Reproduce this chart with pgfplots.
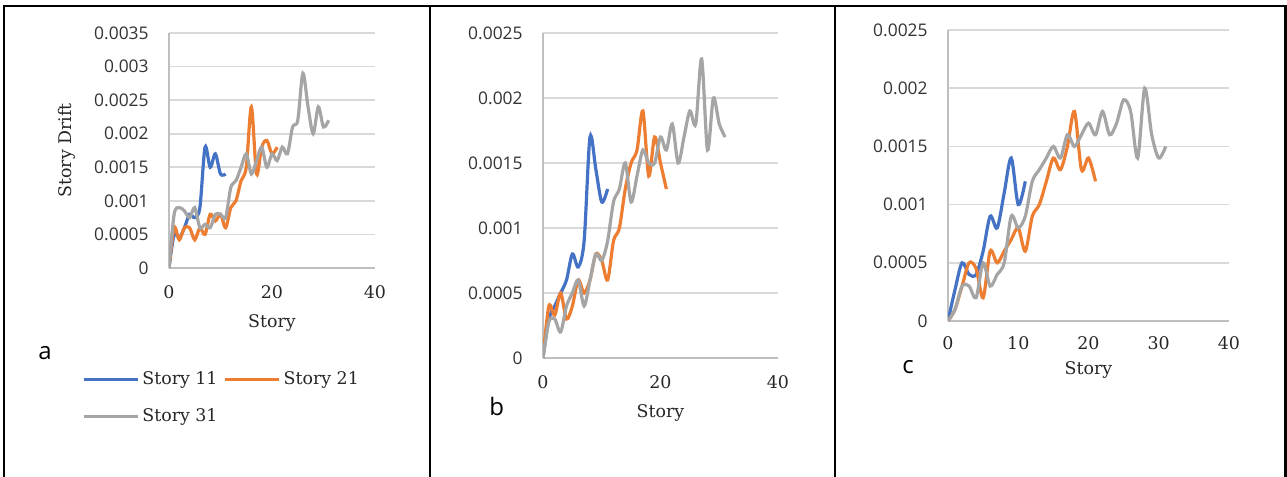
\documentclass[border=0pt]{standalone}
\usepackage{fontspec}
\setmainfont{DejaVu Serif}
\newfontfamily\sansf{Open Sans}
\usepackage{pgfplots}
\pgfplotsset{compat=1.18}
\definecolor{cblue}{HTML}{4472C4}
\definecolor{corange}{HTML}{ED7D31}
\definecolor{cgray}{HTML}{A5A5A5}
\definecolor{gridc}{HTML}{D9D9D9}
\definecolor{axc}{HTML}{BFBFBF}

\pgfplotstableread{
x y
0 0
1 0.0005
2 0.00045
3 0.0006
4 0.0008
5 0.00075
6 0.0009
7 0.0018
8 0.0015
9 0.0017
10 0.0014
11 0.0014
}\aBlue
\pgfplotstableread{
x y
0 0
1 0.0006
2 0.00042
3 0.0006
4 0.0006
5 0.00042
6 0.0006
7 0.0005
8 0.0008
9 0.0007
10 0.0008
11 0.0006
12 0.0009
13 0.001
14 0.0013
15 0.0015
16 0.0024
17 0.0014
18 0.0018
19 0.0019
20 0.0017
21 0.0018
}\aOrange
\pgfplotstableread{
x y
0 0
1 0.0008
2 0.0009
3 0.00085
4 0.00075
5 0.0009
6 0.0006
7 0.00065
8 0.0006
9 0.0008
10 0.0008
11 0.00075
12 0.0012
13 0.0013
14 0.0015
15 0.0017
16 0.0014
17 0.0016
18 0.0018
19 0.0015
20 0.0017
21 0.0016
22 0.0018
23 0.0017
24 0.0021
25 0.0022
26 0.0029
27 0.0024
28 0.002
29 0.0024
30 0.0021
31 0.0022
}\aGray

\pgfplotstableread{
x y
0 0
1 0.0003
2 0.0004
3 0.0005
4 0.0006
5 0.0008
6 0.0007
7 0.0009
8 0.0017
9 0.00145
10 0.0012
11 0.0013
}\bBlue
\pgfplotstableread{
x y
0 0
1 0.0004
2 0.00033
3 0.0005
4 0.0003
5 0.0004
6 0.0006
7 0.0005
8 0.0006
9 0.0008
10 0.00075
11 0.0006
12 0.0009
13 0.001
14 0.0013
15 0.0015
16 0.0016
17 0.0019
18 0.0014
19 0.0017
20 0.0015
21 0.0013
}\bOrange
\pgfplotstableread{
x y
0 0
1 0.00028
2 0.0003
3 0.0002
4 0.0004
5 0.0005
6 0.0006
7 0.0004
8 0.0006
9 0.0008
10 0.00075
11 0.0009
12 0.0012
13 0.0013
14 0.0015
15 0.0012
16 0.0014
17 0.0016
18 0.0015
19 0.0015
20 0.0017
21 0.0016
22 0.0018
23 0.0015
24 0.0017
25 0.0019
26 0.0018
27 0.0023
28 0.0016
29 0.002
30 0.0018
31 0.0017
}\bGray

\pgfplotstableread{
x y
0 0
1 0.00027
2 0.0005
3 0.0004
4 0.0004
5 0.0006
6 0.0009
7 0.0008
8 0.0011
9 0.0014
10 0.001
11 0.0012
}\cBlue
\pgfplotstableread{
x y
0 0
1 0.0001
2 0.0003
3 0.0005
4 0.00045
5 0.0002
6 0.0006
7 0.0005
8 0.0006
9 0.0007
10 0.0008
11 0.0006
12 0.0009
13 0.001
14 0.0012
15 0.0014
16 0.0013
17 0.0015
18 0.0018
19 0.0013
20 0.0014
21 0.0012
}\cOrange
\pgfplotstableread{
x y
0 0
1 0.0001
2 0.0003
3 0.0003
4 0.0002
5 0.0005
6 0.0003
7 0.0004
8 0.0005
9 0.0009
10 0.0008
11 0.0009
12 0.0012
13 0.0013
14 0.0014
15 0.0015
16 0.0014
17 0.0016
18 0.0015
19 0.0016
20 0.0017
21 0.0016
22 0.0018
23 0.0016
24 0.0017
25 0.0019
26 0.0018
27 0.0014
28 0.002
29 0.0016
30 0.0014
31 0.0015
}\cGray

\pgfplotsset{
  panel/.style={
    scale only axis,
    xmin=0, xmax=40, ymin=0,
    axis x line=bottom, axis y line=left,
    axis line style={draw=axc, line width=1pt, -},
    major tick length=0pt,
    ymajorgrids,
    grid style={gridc, line width=0.8pt},
    scaled y ticks=false,
    yticklabel style={font=\sansf\fontsize{8.7}{10}\selectfont, text=black!80, inner sep=0pt, anchor=east, xshift=-10pt},
    xticklabel style={font=\fontsize{8.7}{10}\selectfont, text=black!85, inner sep=0pt, anchor=center, yshift=-12pt},
    xlabel={Story},
    xlabel style={font=\fontsize{8.7}{10}\selectfont, text=black!85, at={(axis description cs:0.5,0)}, anchor=center, yshift=-27.5pt},
    every axis plot/.append style={smooth, line width=1.6pt, no markers},
  }
}

\begin{document}
\begin{tikzpicture}
\useasboundingbox (0,0) rectangle (643.5pt,-238.5pt);
\draw[line width=1.2pt] (2pt,-238.5pt) -- (2pt,-3pt) -- (642.8pt,-3pt) -- (642.8pt,-238.5pt);
\draw[line width=1.2pt] (215pt,-3pt) -- (215pt,-238.5pt);
\draw[line width=1.2pt] (417.5pt,-3pt) -- (417.5pt,-238.5pt);

% panel a
\begin{axis}[panel, at={(84.5pt,-134pt)}, anchor=south west,
  width=103pt, height=117.5pt, ymax=0.0035,
  ytick={0,0.0005,0.001,0.0015,0.002,0.0025,0.003,0.0035},
  yticklabels={0,0.0005,0.001,0.0015,0.002,0.0025,0.003,0.0035},
  xtick={0,20,40}, xticklabels={0,20,40},
  legend columns=2,
  legend style={at={(axis description cs:-0.423,-0.438)}, anchor=north west,
    draw=none, fill=none, inner sep=0pt,
    font=\fontsize{8.7}{10}\selectfont,
    row sep=10.5pt, nodes={inner sep=0pt, text=black!85},
    /tikz/every even column/.append style={column sep=3pt}},
  legend image code/.code={\draw[#1,line width=1.6pt] (0pt,0pt) -- (27pt,0pt);},
]
\addplot[cblue] table {\aBlue};
\addlegendentry{\,Story 11}
\addplot[corange] table {\aOrange};
\addlegendentry{\,Story 21}
\addplot[cgray] table {\aGray};
\addlegendentry{\,Story 31}
\end{axis}
\node[rotate=90, font=\fontsize{8.7}{10}\selectfont, text=black!85] at (33.5pt,-75.25pt) {Story Drift};
\node[font=\sansf\fontsize{12}{14}\selectfont] at (22.5pt,-176.5pt) {a};

% panel b
\begin{axis}[panel, at={(271.5pt,-179pt)}, anchor=south west,
  width=117.5pt, height=162.5pt, ymax=0.0025,
  ytick={0,0.0005,0.001,0.0015,0.002,0.0025},
  yticklabels={0,0.0005,0.001,0.0015,0.002,0.0025},
  xtick={0,20,40}, xticklabels={0,20,40},
]
\addplot[cblue] table {\bBlue};
\addplot[corange] table {\bOrange};
\addplot[cgray] table {\bGray};
\end{axis}
\node[font=\sansf\fontsize{12}{14}\selectfont] at (248.4pt,-203pt) {b};

% panel c
\begin{axis}[panel, at={(474pt,-160.5pt)}, anchor=south west,
  width=140.5pt, height=145.5pt, ymax=0.0025,
  ytick={0,0.0005,0.001,0.0015,0.002,0.0025},
  yticklabels={0,0.0005,0.001,0.0015,0.002,0.0025},
  xtick={0,10,20,30,40}, xticklabels={0,10,20,30,40},
  xticklabel style={yshift=1pt},
  xlabel style={yshift=3pt},
]
\addplot[cblue] table {\cBlue};
\addplot[corange] table {\cOrange};
\addplot[cgray] table {\cGray};
\end{axis}
\node[font=\sansf\fontsize{12}{14}\selectfont] at (454pt,-183.4pt) {c};
\end{tikzpicture}
\end{document}
